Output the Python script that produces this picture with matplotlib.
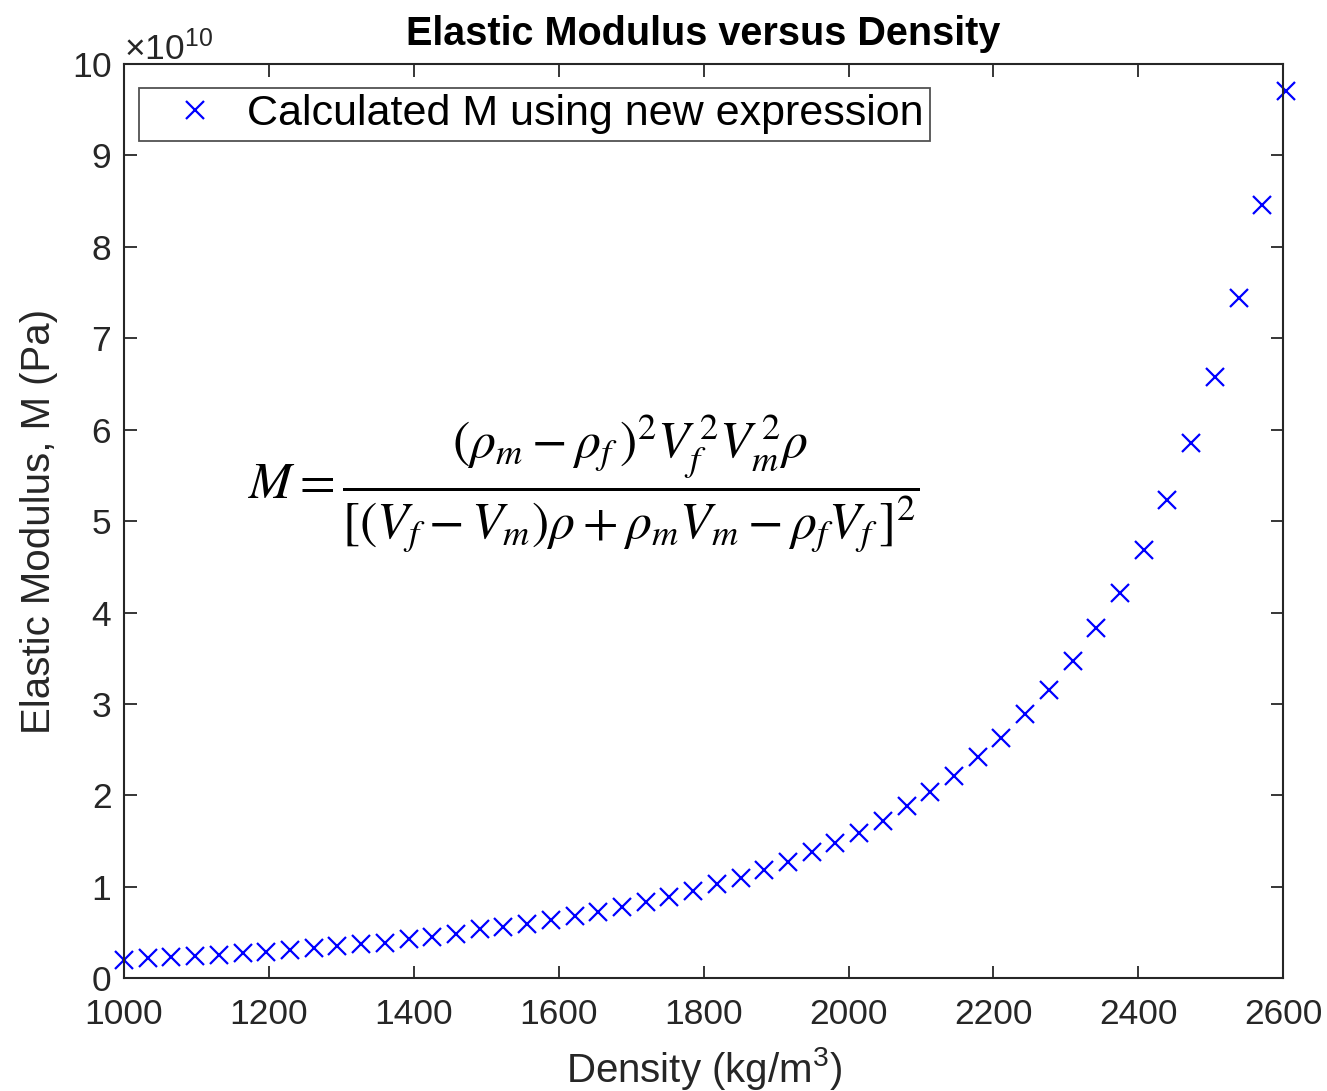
import numpy as np
import matplotlib
matplotlib.use("Agg")
import matplotlib.pyplot as plt
from matplotlib.ticker import ScalarFormatter

# Density values (kg/m^3)
density = [1000.0, 1032.7, 1065.5, 1098.2, 1130.9, 1163.7, 1196.4, 1229.1, 1261.8, 1294.6,
           1327.3, 1360.0, 1392.8, 1425.5, 1458.2, 1491.0, 1523.7, 1556.4, 1589.1, 1621.9,
           1654.6, 1687.3, 1720.1, 1752.8, 1785.5, 1818.3, 1851.0, 1883.7, 1916.4, 1949.2,
           1981.9, 2014.6, 2047.4, 2080.1, 2112.8, 2145.6, 2178.3, 2211.0, 2243.7, 2276.5,
           2309.2, 2341.9, 2374.7, 2407.4, 2440.1, 2472.9, 2505.6, 2538.3, 2571.0, 2603.8]

# Elastic modulus in units of 1e10 Pa
modulus_e10 = [0.20, 0.22, 0.23, 0.245, 0.26, 0.275, 0.29, 0.31, 0.33, 0.35,
               0.37, 0.39, 0.43, 0.455, 0.49, 0.54, 0.565, 0.595, 0.64, 0.68,
               0.725, 0.775, 0.83, 0.886, 0.95, 1.03, 1.094, 1.185, 1.27, 1.385,
               1.477, 1.593, 1.72, 1.885, 2.04, 2.213, 2.418, 2.63, 2.89, 3.154,
               3.475, 3.83, 4.21, 4.68, 5.23, 5.85, 6.58, 7.44, 8.46, 9.70]

legend_label = "Calculated M using new expression"
title = "Elastic Modulus versus Density"

grey = (0.15, 0.15, 0.15)
plt.rcParams['font.family'] = ['Liberation Sans', 'DejaVu Sans']
plt.rcParams['mathtext.fontset'] = 'custom'
plt.rcParams['mathtext.rm'] = 'Liberation Sans'

fig = plt.figure(figsize=(13.27, 10.91), dpi=100)
ax = fig.add_axes([0.0934, 0.1033, 0.8737, 0.838])

M = np.array(modulus_e10) * 1e10
ax.plot(density, M, 'x', color=(0, 0, 1), markersize=13.5, markeredgewidth=1.6,
        label=legend_label, clip_on=False)

ax.set_xlim(1000, 2600)
ax.set_ylim(0, 10e10)
ax.set_xticks(np.arange(1000, 2601, 200))
ax.set_yticks(np.arange(0, 10.01, 1) * 1e10)

# fixed x10^10 exponent like the original
fmt = ScalarFormatter(useMathText=True)
fmt.set_powerlimits((10, 10))
ax.yaxis.set_major_formatter(fmt)

ax.tick_params(direction='in', length=9, width=1.3, colors=grey, labelsize=25.5,
               top=True, right=True)
ax.tick_params(axis='x', pad=14)
ax.tick_params(axis='y', pad=9)
for s in ax.spines.values():
    s.set_color(grey)
    s.set_linewidth(1.5)
ax.yaxis.get_offset_text().set_fontsize(25.5)
ax.yaxis.get_offset_text().set_color(grey)

ax.set_xlabel("Density (kg/m$^3$)", fontsize=29, color=grey, labelpad=10)
ax.set_ylabel("Elastic Modulus, M (Pa)", fontsize=29, color=grey, labelpad=10)
ax.set_title(title, fontsize=28.5, fontweight='bold', pad=14)

leg = ax.legend(loc='upper left', fontsize=31, frameon=True, fancybox=False,
                edgecolor=grey, borderpad=0.15, handletextpad=0.05, handlelength=2.3,
                borderaxespad=0, bbox_to_anchor=(0.013, 0.974))
leg.get_frame().set_linewidth(1.3)

eq = (r'$M = \dfrac{(\rho_m - \rho_f\,)^2 V_f^{\,2} V_m^{\,2} \rho}'
      r'{[(V_f - V_m)\rho + \rho_m V_m - \rho_f V_f\,]^2}$')
ax.text(0.107, 0.541, eq, transform=ax.transAxes, fontsize=37.3, math_fontfamily='stix',
        va='center', ha='left', color='black')

fig.savefig("out.png", dpi=100)
